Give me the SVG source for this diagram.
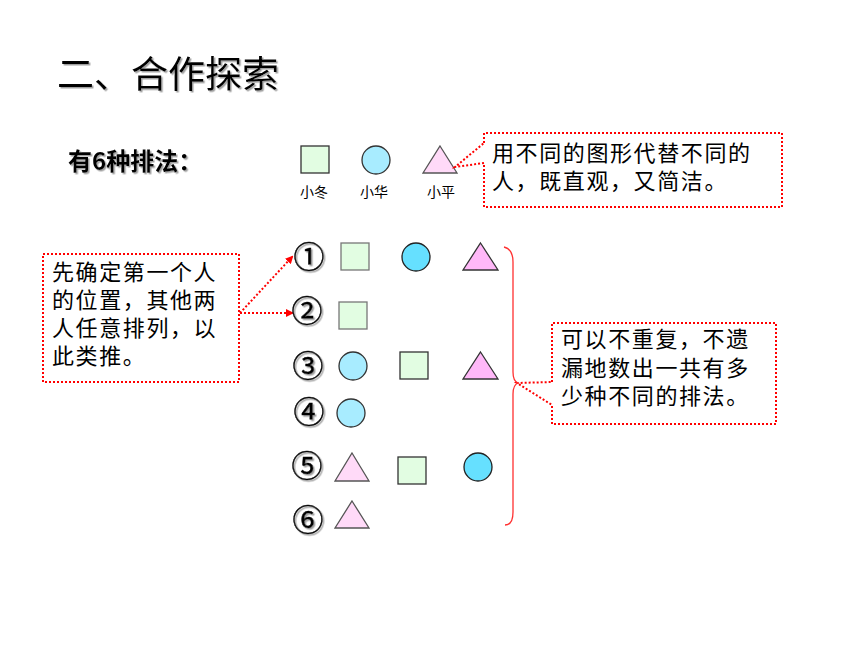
<svg xmlns="http://www.w3.org/2000/svg" width="860" height="645" viewBox="0 0 860 645">
<defs>
<filter id="sh" x="-10%" y="-10%" width="130%" height="140%">
<feDropShadow dx="1.5" dy="1.5" stdDeviation="0.7" flood-color="#888" flood-opacity="0.8"/>
</filter>
<marker id="ah" markerWidth="8" markerHeight="8" refX="6" refY="4" orient="auto" markerUnits="userSpaceOnUse">
<path d="M0,0 L8,4 L0,8 Z" fill="#ff0000"/>
</marker>
<style>
.cjk{font-family:"Noto Sans CJK SC","Liberation Sans",sans-serif;fill:#000}
.title{font-size:37px}
.sub{font-size:24px;font-weight:bold}
.num{font-size:31px;font-family:"Noto Sans CJK SC",sans-serif;text-anchor:middle;fill:#000;stroke:#000;stroke-width:0.5}
.lbl{font-size:14px;text-anchor:middle}
.call{font-size:22px;letter-spacing:1.6px}
.dot{fill:none;stroke:#ff0000;stroke-width:2;stroke-dasharray:2 2}
.sq{fill:#e2fde2;stroke:#333;stroke-width:1.3}
.sq1{fill:#e2fde2;stroke:#777;stroke-width:1.3}
.cd{fill:#66e0ff;stroke:#222;stroke-width:1.3}
.cl{fill:#a8ecff;stroke:#333;stroke-width:1.3}
.td{fill:#ffb8f8;stroke:#333;stroke-width:1.3}
.tl{fill:#ffdaf8;stroke:#555;stroke-width:1.3}
</style>
</defs>
<rect width="860" height="645" fill="#fff"/>

<g id="title"><text class="cjk title" x="57" y="88" filter="url(#sh)">二、合作探索</text></g>
<g id="subtitle"><text class="cjk sub" x="68" y="170" filter="url(#sh)">有6种排法：</text></g>

<g id="legend">
<rect class="sq" x="301" y="146" width="28" height="27"/>
<circle class="cl" cx="376" cy="160" r="14"/>
<polygon class="tl" points="440,146 457,173 423,173"/>
<text class="cjk lbl" x="314" y="197">小冬</text>
<text class="cjk lbl" x="374" y="197">小华</text>
<text class="cjk lbl" x="441" y="197">小平</text>
</g>

<g id="callout-top">
<path class="dot" d="M484,143 L484,133 L782,133 L782,207 L484,207 L484,163 L455,167 Z"/>
<text class="cjk call"><tspan x="492" y="161">用不同的图形代替不同的</tspan><tspan x="492" y="189">人，既直观，又简洁。</tspan></text>
</g>

<g id="callout-left">
<rect class="dot" x="43" y="254" width="196" height="128"/>
<text class="cjk call"><tspan x="52" y="280">先确定第一个人</tspan><tspan x="52" y="308">的位置，其他两</tspan><tspan x="52" y="336">人任意排列，以</tspan><tspan x="52" y="364">此类推。</tspan></text>
</g>

<g id="callout-right">
<path class="dot" d="M552,382 L552,323 L776,323 L776,424 L552,424 L552,405 L517,383 Z"/>
<text class="cjk call"><tspan x="561" y="347">可以不重复，不遗</tspan><tspan x="561" y="376">漏地数出一共有多</tspan><tspan x="561" y="404">少种不同的排法。</tspan></text>
</g>

<g id="connectors">
<line class="dot" x1="240" y1="313" x2="292" y2="257" marker-end="url(#ah)"/>
<line class="dot" x1="240" y1="313" x2="292" y2="313" marker-end="url(#ah)"/>
<path d="M504,247 Q513,249 513,262 L513,372 Q513,381 518,383 Q513,385 513,394 L513,512 Q513,525 505,525" fill="none" stroke="#ff3030" stroke-width="1.3"/>
</g>

<g id="row1">
<text class="num" x="309" y="268" filter="url(#sh)">①</text>
<rect class="sq1" x="341" y="243" width="28" height="27"/>
<circle class="cd" cx="416" cy="257" r="14"/>
<polygon class="td" points="480.5,243 498,270 463,270"/>
</g>
<g id="row2">
<text class="num" x="307" y="322" filter="url(#sh)">②</text>
<rect class="sq1" x="339" y="302" width="28" height="27"/>
</g>
<g id="row3">
<text class="num" x="308" y="377" filter="url(#sh)">③</text>
<circle class="cl" cx="353" cy="366" r="14"/>
<rect class="sq" x="400" y="352" width="28" height="27"/>
<polygon class="td" points="480.5,352 498,379 463,379"/>
</g>
<g id="row4">
<text class="num" x="309" y="423" filter="url(#sh)">④</text>
<circle class="cl" cx="351" cy="413" r="14"/>
</g>
<g id="row5">
<text class="num" x="307" y="477" filter="url(#sh)">⑤</text>
<polygon class="tl" points="352,453 369,481 335,481"/>
<rect class="sq" x="398" y="457" width="28" height="27"/>
<circle class="cd" cx="478" cy="467" r="14"/>
</g>
<g id="row6">
<text class="num" x="308" y="531" filter="url(#sh)">⑥</text>
<polygon class="tl" points="352,501 369,528 335,528"/>
</g>
</svg>
